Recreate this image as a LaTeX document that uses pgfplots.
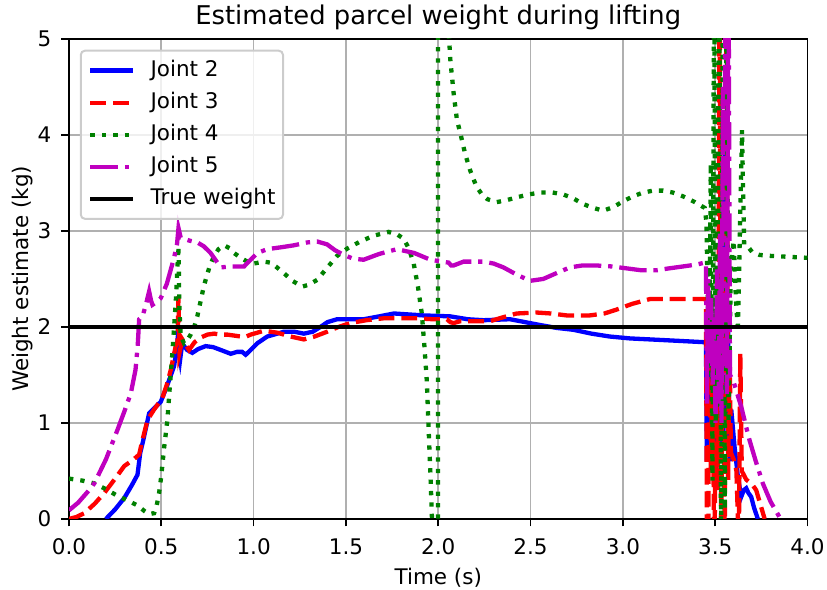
\documentclass[border=0pt]{standalone}
\usepackage{fontspec}
\setmainfont{DejaVu Sans}
\usepackage{pgfplots}
\pgfplotsset{compat=1.18}
\definecolor{gridgray}{HTML}{B0B0B0}
\definecolor{legframe}{HTML}{CCCCCC}
\definecolor{mplgreen}{rgb}{0,0.5,0}
\definecolor{mplmag}{rgb}{0.75,0,0.75}
\newcommand{\tickfont}{\fontsize{21.5bp}{25bp}\selectfont}
\begin{document}
\begin{tikzpicture}
\begin{axis}[
  at={(0,0)}, anchor=south west,
  scale only axis, width=738.5bp, height=480bp,
  xmin=0, xmax=4, ymin=0, ymax=5,
  xtick={0,0.5,1,1.5,2,2.5,3,3.5,4},
  xticklabels={0.0,0.5,1.0,1.5,2.0,2.5,3.0,3.5,4.0},
  ytick={0,1,2,3,4,5},
  yticklabels={0,1,2,3,4,5},
  xtick pos=lower, ytick pos=left,
  tick align=outside, major tick length=7.5bp,
  every tick/.style={black, line width=1.7bp},
  axis line style={line width=1.7bp},
  grid=major, grid style={gridgray, line width=1.7bp},
  tick label style={font=\tickfont, inner sep=0pt},
  every x tick label/.style={anchor=base, yshift=-28.5bp},
  every y tick label/.style={anchor=east, xshift=-10bp},
  every axis title/.style={at={(0.5,1)}, anchor=base, yshift=14.5bp, inner sep=0pt, font=\fontsize{25.8bp}{30bp}\selectfont},
  every axis x label/.style={at={(axis description cs:0.5,0)}, anchor=base, yshift=-66bp, inner sep=0pt, font=\tickfont},
  every axis y label/.style={at={(axis description cs:-0.0555,0.5)}, rotate=90, anchor=base, inner sep=0pt, font=\tickfont},
  title={Estimated parcel weight during lifting},
  xlabel={Time (s)},
  ylabel={Weight estimate (kg)},
  legend cell align=left,
  legend image code/.code={\draw[#1] (0bp,0bp) -- (43bp,0bp);},
  legend style={at={(0,1)}, anchor=north west, xshift=10.75bp, yshift=-10.75bp,
    draw=legframe, line width=2bp, rounded corners=4.3bp, fill=white, fill opacity=0.8, text opacity=1, draw opacity=1,
    inner xsep=7.5bp, inner ysep=9.5bp, row sep=11.3bp, font=\tickfont,
    nodes={inner sep=0pt, text height=16.3bp, text depth=4.5bp},
    /tikz/every odd column/.append style={column sep=15bp}},
]
\addplot[blue, line width=4.3bp] table {
x y
0.20 0.00
0.25 0.10
0.30 0.22
0.34 0.35
0.371 0.46
0.386 0.69
0.40 0.80
0.434 1.10
0.46 1.15
0.497 1.22
0.53 1.38
0.569 1.59
0.582 1.75
0.588 1.87
0.595 1.75
0.602 1.66
0.61 1.78
0.62 1.81
0.64 1.76
0.668 1.73
0.70 1.77
0.74 1.80
0.78 1.79
0.822 1.76
0.876 1.72
0.91 1.74
0.938 1.74
0.957 1.71
0.984 1.76
1.02 1.83
1.074 1.90
1.164 1.95
1.22 1.95
1.272 1.93
1.32 1.95
1.362 2.00
1.40 2.05
1.452 2.08
1.596 2.08
1.68 2.11
1.76 2.14
1.84 2.13
1.92 2.12
2.065 2.11
2.16 2.08
2.245 2.07
2.389 2.08
2.47 2.05
2.551 2.02
2.64 1.99
2.732 1.97
2.83 1.93
2.929 1.90
3.04 1.88
3.146 1.87
3.30 1.855
3.45 1.84
3.455 0.6
3.462 1.9
3.47 0.8
3.478 2.3
3.487 0.5
3.495 1.6
3.505 0.3
3.515 2.2
3.525 0.6
3.535 3.4
3.545 0.9
3.553 4.2
3.562 1.0
3.57 2.0
3.578 0.6
3.587 1.14
3.605 0.75
3.623 0.44
3.641 0.23
3.655 0.30
3.668 0.32
3.68 0.27
3.695 0.23
3.71 0.12
3.731 0.0
};
\addlegendentry{Joint 2}
\addplot[red, line width=4.3bp, dash pattern=on 15.9bp off 6.9bp] table {
x y
0.00 0.00
0.04 0.02
0.083 0.06
0.14 0.16
0.191 0.27
0.25 0.42
0.299 0.55
0.35 0.62
0.38 0.67
0.395 0.80
0.407 0.89
0.425 1.03
0.461 1.14
0.506 1.26
0.53 1.40
0.551 1.55
0.578 1.80
0.588 1.85
0.593 2.32
0.598 1.73
0.606 1.80
0.614 1.87
0.63 1.82
0.65 1.76
0.68 1.84
0.714 1.89
0.75 1.92
0.786 1.93
0.82 1.92
0.858 1.92
0.93 1.90
0.96 1.90
0.984 1.92
1.056 1.96
1.128 1.94
1.20 1.90
1.272 1.87
1.33 1.90
1.398 1.95
1.46 2.00
1.524 2.04
1.61 2.07
1.705 2.09
1.80 2.09
1.885 2.09
1.97 2.08
2.047 2.08
2.065 2.05
2.083 2.04
2.12 2.06
2.173 2.06
2.281 2.06
2.35 2.10
2.425 2.14
2.533 2.15
2.61 2.14
2.695 2.12
2.821 2.12
2.90 2.14
2.965 2.18
3.05 2.24
3.146 2.29
3.326 2.29
3.443 2.29
3.45 2.28
3.456 -0.5
3.462 -0.5
3.468 2.1
3.476 0.5
3.486 1.8
3.495 -0.5
3.505 1.3
3.515 0.3
3.524 6
3.532 -0.5
3.542 2.4
3.552 -0.5
3.562 6
3.57 0.4
3.578 1.8
3.585 0.69
3.60 0.62
3.615 0.5
3.628 -0.3
3.636 1.72
3.644 0.5
3.668 0.41
3.70 0.36
3.722 0.30
3.745 0.15
3.768 0.0
};
\addlegendentry{Joint 3}
\addplot[mplgreen, line width=4.3bp, dash pattern=on 4.3bp off 7.1bp] table {
x y
0.00 0.42
0.07 0.40
0.137 0.37
0.20 0.31
0.263 0.24
0.32 0.19
0.371 0.14
0.41 0.08
0.434 0.05
0.461 0.06
0.475 0.14
0.488 0.27
0.50 0.45
0.515 0.74
0.533 1.03
0.545 1.35
0.56 1.73
0.578 2.25
0.593 2.84
0.598 2.2
0.605 1.90
0.623 1.83
0.64 1.86
0.659 1.92
0.678 2.00
0.695 2.11
0.713 2.27
0.731 2.43
0.76 2.62
0.786 2.74
0.81 2.81
0.84 2.85
0.87 2.82
0.894 2.77
0.93 2.72
0.966 2.68
1.00 2.66
1.056 2.68
1.09 2.67
1.12 2.63
1.164 2.56
1.21 2.48
1.263 2.42
1.30 2.44
1.344 2.49
1.40 2.62
1.452 2.74
1.51 2.82
1.578 2.89
1.65 2.95
1.731 2.99
1.78 2.96
1.812 2.92
1.84 2.82
1.866 2.67
1.89 2.42
1.911 2.14
1.925 1.80
1.938 1.44
1.948 0.93
1.958 0.45
1.966 0.0
1.98 -3
1.997 -60
2.000 60
2.02 12
2.04 6.5
2.059 5.0
2.065 4.79
2.083 4.44
2.101 4.16
2.123 3.99
2.146 3.80
2.173 3.63
2.205 3.47
2.236 3.38
2.267 3.33
2.317 3.30
2.37 3.32
2.425 3.35
2.49 3.38
2.551 3.40
2.62 3.40
2.677 3.38
2.73 3.34
2.785 3.28
2.84 3.24
2.893 3.21
2.95 3.25
3.002 3.31
3.055 3.36
3.11 3.40
3.165 3.42
3.218 3.42
3.27 3.40
3.326 3.36
3.39 3.30
3.443 3.24
3.452 3.1
3.46 2.3
3.468 1.5
3.476 3.7
3.485 0.4
3.494 6
3.503 1.0
3.512 3.0
3.522 6
3.532 -0.5
3.542 6
3.552 0.1
3.562 6
3.572 1.0
3.585 2.6
3.60 2.9
3.612 2.3
3.623 1.95
3.645 4.05
3.657 2.85
3.68 2.83
3.70 2.78
3.74 2.75
3.80 2.74
3.90 2.73
4.00 2.72
};
\addlegendentry{Joint 4}
\addplot[mplmag, line width=4.3bp, dash pattern=on 27.5bp off 6.9bp on 4.3bp off 6.9bp] table {
x y
0.00 0.09
0.05 0.17
0.10 0.28
0.137 0.37
0.20 0.62
0.263 0.93
0.30 1.12
0.335 1.31
0.36 1.55
0.372 1.80
0.38 2.08
0.398 2.11
0.415 2.22
0.434 2.37
0.445 2.27
0.452 2.23
0.475 2.26
0.497 2.30
0.53 2.45
0.569 2.72
0.585 2.86
0.593 3.03
0.605 2.93
0.65 2.90
0.695 2.88
0.73 2.84
0.767 2.77
0.80 2.68
0.822 2.62
0.876 2.63
0.948 2.63
0.984 2.70
1.02 2.77
1.074 2.81
1.15 2.83
1.218 2.85
1.29 2.88
1.344 2.89
1.398 2.86
1.44 2.80
1.488 2.75
1.54 2.71
1.596 2.70
1.68 2.76
1.776 2.81
1.87 2.77
1.957 2.70
2.056 2.67
2.07 2.64
2.083 2.64
2.137 2.68
2.245 2.68
2.30 2.66
2.353 2.62
2.42 2.55
2.497 2.48
2.569 2.50
2.64 2.56
2.713 2.62
2.78 2.64
2.857 2.64
2.94 2.63
3.02 2.61
3.10 2.59
3.182 2.59
3.25 2.61
3.326 2.63
3.40 2.65
3.443 2.67
3.45 2.67
3.455 1.2
3.462 2.5
3.47 1.6
3.478 2.3
3.486 1.4
3.494 2.1
3.502 1.0
3.51 2.6
3.518 1.2
3.526 3.0
3.534 1.0
3.542 4.5
3.548 1.5
3.556 6
3.563 1.3
3.572 6
3.58 1.5
3.596 1.45
3.62 1.3
3.641 1.17
3.665 0.98
3.686 0.82
3.72 0.6
3.758 0.37
3.80 0.18
3.848 0.02
3.86 0.0
};
\addlegendentry{Joint 5}
\addplot[black, line width=4.3bp] coordinates {(0,2) (4,2)};
\addlegendentry{True weight}
\end{axis}
\pgfresetboundingbox
\path[use as bounding box] (-69bp,-71bp) rectangle (758bp,519bp);
\end{tikzpicture}
\end{document}
